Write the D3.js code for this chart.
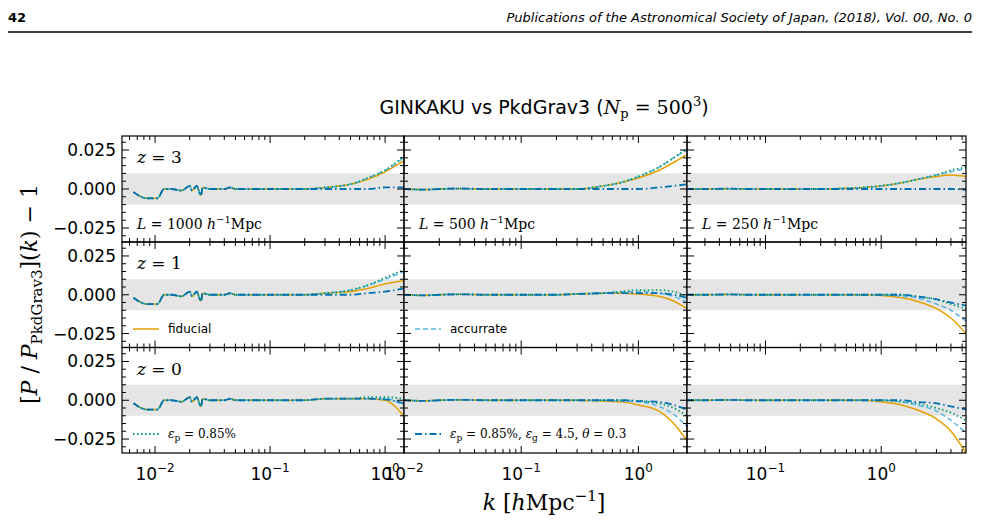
<!DOCTYPE html>
<html>
<head>
<meta charset="utf-8">
<script src="https://cdn.jsdelivr.net/npm/d3@7"></script>
<style>
body { margin: 0; background: #fff; }
text { fill: #000; }
.serif { font-family: "DejaVu Serif", serif; }
.sans { font-family: "DejaVu Sans", sans-serif; }
</style>
</head>
<body>
<script>
// k grids per column (low-k part shared by all series, then high-k part)
var kLow = [
  [0.0065, 0.0085, 0.0105, 0.012, 0.014, 0.017, 0.02, 0.021, 0.023, 0.025, 0.026, 0.03, 0.04, 0.045, 0.05, 0.07],
  [0.01, 0.015, 0.02, 0.03, 0.05, 0.07],
  [0.021, 0.03, 0.05, 0.07]
];
var kHigh = [
  [0.1, 0.2, 0.3, 0.5, 0.7, 1.0, 1.45],
  [0.1, 0.2, 0.3, 0.5, 0.7, 1.0, 1.5, 2.0, 2.6],
  [0.1, 0.2, 0.3, 0.5, 0.7, 1.0, 1.5, 2.0, 3.0, 4.0, 5.4]
];
var lowVals = [
  [-0.002, -0.006, -0.006, 0.000, 0.000, -0.001, 0.002, -0.001, 0.002, -0.004, 0.001, 0.000, 0.000, 0.001, 0.000, 0.000],
  [0.000, -0.0004, 0.000, 0.0003, 0.000, 0.000],
  [0.000, 0.000, 0.0002, 0.000]
];
var redshifts = ["3", "1", "0"];
var boxes = ["1000", "500", "250"];
var seriesNames = ["fiducial", "accurrate", "green", "dashdot"];
// [row][col] high-k values per series
var fiducial = [
  [[0, 0, 0.001, 0.003, 0.006, 0.011, 0.018], [0, 0, 0, 0.002, 0.004, 0.007, 0.012, 0.017, 0.022], [0, 0, 0, 0.0005, 0.001, 0.002, 0.004, 0.006, 0.008, 0.009, 0.008]],
  [[0, 0, 0.001, 0.002, 0.004, 0.007, 0.009], [0, 0, 0.0005, 0.001, 0.001, 0.0005, -0.001, -0.004, -0.009], [0, 0, 0, 0, 0, -0.0005, -0.002, -0.004, -0.009, -0.015, -0.025]],
  [[0, 0, 0.001, 0.001, 0.001, 0.000, -0.010], [0, 0, 0, -0.0005, -0.001, -0.003, -0.007, -0.015, -0.026], [0, 0, 0, 0, 0, -0.001, -0.003, -0.006, -0.012, -0.020, -0.034]]
];
var accurrate = [
  [[0, 0, 0.001, 0.003, 0.007, 0.012, 0.020], [0, 0, 0, 0.002, 0.004, 0.008, 0.014, 0.020, 0.025], [0, 0, 0, 0.0005, 0.001, 0.002, 0.004, 0.006, 0.009, 0.011, 0.013]],
  [[0, 0, 0.001, 0.003, 0.006, 0.010, 0.015], [0, 0, 0.0005, 0.001, 0.002, 0.002, 0.001, -0.001, -0.005], [0, 0, 0, 0, 0, 0, -0.001, -0.002, -0.006, -0.010, -0.017]],
  [[0, 0, 0.001, 0.001, 0.001, 0.001, -0.003], [0, 0, 0, 0, -0.0005, -0.001, -0.004, -0.009, -0.017], [0, 0, 0, 0, 0, 0, -0.001, -0.003, -0.007, -0.013, -0.021]]
];
var epsP = [
  [[0, 0, 0.001, 0.003, 0.007, 0.012, 0.021], [0, 0, 0, 0.002, 0.004, 0.008, 0.014, 0.020, 0.026], [0, 0, 0, 0.0005, 0.001, 0.002, 0.004, 0.006, 0.009, 0.012, 0.014]],
  [[0, 0, 0.001, 0.003, 0.006, 0.011, 0.016], [0, 0, 0.0005, 0.001, 0.002, 0.003, 0.003, 0.002, -0.001], [0, 0, 0, 0, 0, 0, 0, -0.001, -0.003, -0.006, -0.009]],
  [[0, 0, 0.001, 0.001, 0.002, 0.002, 0.001], [0, 0, 0, 0, 0, -0.0005, -0.002, -0.005, -0.010], [0, 0, 0, 0, 0, 0, -0.001, -0.002, -0.005, -0.008, -0.013]]
];
var epsAll = [
  [[0, 0, 0, 0, 0, 0.001, 0.001], [0, 0, 0, 0, 0, 0, 0.001, 0.002, 0.003], [0, 0, 0, 0, 0, 0, 0, 0, 0, 0, -0.0005]],
  [[0, 0, 0, 0, 0.001, 0.002, 0.004], [0, 0, 0.0005, 0.001, 0.001, 0.001, 0.001, 0.000, -0.002], [0, 0, 0, 0, 0, 0, 0, -0.001, -0.003, -0.005, -0.007]],
  [[0, 0, 0.001, 0.001, 0.001, 0.0005, -0.002], [0, 0, 0, 0, 0, -0.0005, -0.001, -0.003, -0.006], [0, 0, 0, 0, 0, 0, 0, -0.001, -0.002, -0.004, -0.006]]
];
var xDomains = [[0.00516, 1.46], [0.01, 2.6], [0.021, 5.4]];
var yTicks = [-0.025, 0, 0.025];
var yTickLabels = ["\u22120.025", "0.000", "0.025"];

var styles = [
  { data: fiducial, color: "#E69F00", dash: null, width: 1.5 },
  { data: accurrate, color: "#56B4E9", dash: "5,3", width: 1.5 },
  { data: epsP, color: "#009E73", dash: "1.5,2.5", width: 1.8 },
  { data: epsAll, color: "#0072B2", dash: "7,3,1.5,3", width: 1.8 }
];

var W = 981, H = 524;
var colX = [122, 404, 687, 966];
var rowY = [136, 242, 347.5, 453];

var svg = d3.select("body").append("svg").attr("width", W).attr("height", H);

// page header
svg.append("text").attr("class", "sans").attr("x", 8).attr("y", 22)
  .attr("font-size", 13).attr("font-weight", "bold").text("42");
svg.append("text").attr("class", "sans").attr("x", 972).attr("y", 22)
  .attr("font-size", 13).attr("font-style", "italic").attr("text-anchor", "end")
  .text("Publications of the Astronomical Society of Japan, (2018), Vol. 00, No. 0");
svg.append("line").attr("x1", 8).attr("x2", 972).attr("y1", 32).attr("y2", 32)
  .attr("stroke", "#000").attr("stroke-width", 1.5);

// title
var title = svg.append("text").attr("x", 544).attr("y", 114).attr("text-anchor", "middle")
  .attr("font-size", 19).attr("class", "sans");
title.append("tspan").text("GINKAKU vs PkdGrav3 (");
title.append("tspan").attr("class", "serif").attr("font-style", "italic").text("N");
title.append("tspan").attr("class", "serif").attr("font-size", 13).attr("dy", 4).text("p");
title.append("tspan").attr("class", "serif").attr("dy", -4).text(" = 500");
title.append("tspan").attr("class", "serif").attr("font-size", 13).attr("dy", -8).text("3");
title.append("tspan").attr("dy", 8).text(")");

var defs = svg.append("defs");

for (var r = 0; r < 3; r++) {
  for (var c = 0; c < 3; c++) {
    var x0 = colX[c], x1 = colX[c + 1], y0 = rowY[r], y1 = rowY[r + 1];
    var x = d3.scaleLog().domain(xDomains[c]).range([x0, x1]);
    var y = d3.scaleLinear().domain([-0.034, 0.034]).range([y1, y0]);
    var id = "clip" + r + c;
    defs.append("clipPath").attr("id", id).append("rect")
      .attr("x", x0).attr("y", y0).attr("width", x1 - x0).attr("height", y1 - y0);
    var g = svg.append("g");

    // gray tolerance band
    g.append("rect").attr("x", x0).attr("width", x1 - x0)
      .attr("y", y(0.01)).attr("height", y(-0.01) - y(0.01)).attr("fill", "#e5e5e5");

    var line = d3.line().x(function (d) { return x(d[0]); }).y(function (d) { return y(d[1]); })
      .curve(d3.curveMonotoneX);
    var ks = kLow[c].concat(kHigh[c]);
    styles.forEach(function (s) {
      var vals = lowVals[c].concat(s.data[r][c]);
      var pts = ks.map(function (k, i) { return [k, vals[i]]; });
      g.append("path").attr("d", line(pts)).attr("fill", "none")
        .attr("stroke", s.color).attr("stroke-width", s.width)
        .attr("stroke-dasharray", s.dash).attr("clip-path", "url(#" + id + ")");
    });

    // frame
    g.append("rect").attr("x", x0).attr("y", y0).attr("width", x1 - x0).attr("height", y1 - y0)
      .attr("fill", "none").attr("stroke", "#000").attr("stroke-width", 1.2);

    // x ticks (inward, top and bottom)
    var major = [0.01, 0.1, 1], minor = [];
    [0.001, 0.01, 0.1, 1].forEach(function (d) {
      for (var m = 2; m <= 9; m++) minor.push(d * m);
    });
    var inX = function (v) { return v >= xDomains[c][0] * 0.999 && v <= xDomains[c][1] * 1.001; };
    major.filter(inX).forEach(function (v) {
      g.append("line").attr("x1", x(v)).attr("x2", x(v)).attr("y1", y1).attr("y2", y1 - 7).attr("stroke", "#000");
      g.append("line").attr("x1", x(v)).attr("x2", x(v)).attr("y1", y0).attr("y2", y0 + 7).attr("stroke", "#000");
    });
    minor.filter(inX).forEach(function (v) {
      g.append("line").attr("x1", x(v)).attr("x2", x(v)).attr("y1", y1).attr("y2", y1 - 4).attr("stroke", "#000");
      g.append("line").attr("x1", x(v)).attr("x2", x(v)).attr("y1", y0).attr("y2", y0 + 4).attr("stroke", "#000");
    });
    // y ticks (inward, left and right)
    d3.range(-0.03, 0.0301, 0.005).forEach(function (v) {
      var isMaj = Math.abs(v % 0.025) < 1e-6 || Math.abs(Math.abs(v % 0.025) - 0.025) < 1e-6;
      var len = isMaj ? 7 : 4;
      g.append("line").attr("x1", x0).attr("x2", x0 + len).attr("y1", y(v)).attr("y2", y(v)).attr("stroke", "#000");
      g.append("line").attr("x1", x1).attr("x2", x1 - len).attr("y1", y(v)).attr("y2", y(v)).attr("stroke", "#000");
    });

    // y tick labels
    if (c === 0) {
      yTicks.forEach(function (v, i) {
        svg.append("text").attr("class", "sans").attr("x", x0 - 6).attr("y", y(v) + 6)
          .attr("text-anchor", "end").attr("font-size", 17).text(yTickLabels[i]);
      });
    }
    // x tick labels
    if (r === 2) {
      major.filter(inX).forEach(function (v) {
        var t = svg.append("text").attr("class", "sans").attr("x", x(v)).attr("y", y1 + 27)
          .attr("text-anchor", "middle").attr("font-size", 17);
        t.append("tspan").text("10");
        t.append("tspan").attr("font-size", 12).attr("dy", -8).text(v === 1 ? "0" : (v === 0.1 ? "\u22121" : "\u22122"));
      });
    }

    // redshift labels
    if (c === 0) {
      var zt = svg.append("text").attr("class", "serif").attr("x", x0 + 15).attr("y", y0 + 27).attr("font-size", 17);
      zt.append("tspan").attr("font-style", "italic").text("z");
      zt.append("tspan").text(" = " + redshifts[r]);
    }
    // box size labels
    if (r === 0) {
      var lt = svg.append("text").attr("class", "serif").attr("x", x0 + 15).attr("y", y0 + 93).attr("font-size", 14);
      lt.append("tspan").attr("font-style", "italic").text("L");
      lt.append("tspan").text(" = " + boxes[c] + " ");
      lt.append("tspan").attr("font-style", "italic").text("h");
      lt.append("tspan").attr("font-size", 10).attr("dy", -6).text("\u22121");
      lt.append("tspan").attr("dy", 6).text("Mpc");
    }
  }
}

// legend entries
function legendLine(s, lx, ly) {
  svg.append("line").attr("x1", lx).attr("x2", lx + 26).attr("y1", ly).attr("y2", ly)
    .attr("stroke", s.color).attr("stroke-width", s.width).attr("stroke-dasharray", s.dash);
}
legendLine(styles[0], 133, 329);
svg.append("text").attr("class", "sans").attr("x", 168).attr("y", 333).attr("font-size", 12).text("fiducial");
legendLine(styles[1], 415, 329);
svg.append("text").attr("class", "sans").attr("x", 450).attr("y", 333).attr("font-size", 12).text("accurrate");

legendLine(styles[2], 133, 434);
var e1 = svg.append("text").attr("class", "serif").attr("x", 168).attr("y", 438).attr("font-size", 12);
e1.append("tspan").attr("font-style", "italic").text("\u03b5");
e1.append("tspan").attr("font-size", 9).attr("dy", 3).text("p");
e1.append("tspan").attr("dy", -3).text(" = 0.85%");

legendLine(styles[3], 415, 434);
var e2 = svg.append("text").attr("class", "serif").attr("x", 450).attr("y", 438).attr("font-size", 12);
e2.append("tspan").attr("font-style", "italic").text("\u03b5");
e2.append("tspan").attr("font-size", 9).attr("dy", 3).text("p");
e2.append("tspan").attr("dy", -3).text(" = 0.85%, ");
e2.append("tspan").attr("font-style", "italic").text("\u03b5");
e2.append("tspan").attr("font-size", 9).attr("dy", 3).text("g");
e2.append("tspan").attr("dy", -3).text(" = 4.5, ");
e2.append("tspan").attr("font-style", "italic").text("\u03b8");
e2.append("tspan").text(" = 0.3");

// axis labels
var xl = svg.append("text").attr("class", "serif").attr("x", 544).attr("y", 510)
  .attr("text-anchor", "middle").attr("font-size", 22);
xl.append("tspan").attr("font-style", "italic").text("k");
xl.append("tspan").text(" [");
xl.append("tspan").attr("font-style", "italic").text("h");
xl.append("tspan").text("Mpc");
xl.append("tspan").attr("font-size", 15).attr("dy", -9).text("\u22121");
xl.append("tspan").attr("dy", 9).text("]");

var yl = svg.append("text").attr("class", "serif").attr("transform", "translate(37,294) rotate(-90)")
  .attr("text-anchor", "middle").attr("font-size", 22);
yl.append("tspan").text("[");
yl.append("tspan").attr("font-style", "italic").text("P");
yl.append("tspan").text(" / ");
yl.append("tspan").attr("font-style", "italic").text("P");
yl.append("tspan").attr("font-size", 15).attr("dy", 5).text("PkdGrav3");
yl.append("tspan").attr("dy", -5).text("](");
yl.append("tspan").attr("font-style", "italic").text("k");
yl.append("tspan").text(") \u2212 1");
</script>
</body>
</html>
